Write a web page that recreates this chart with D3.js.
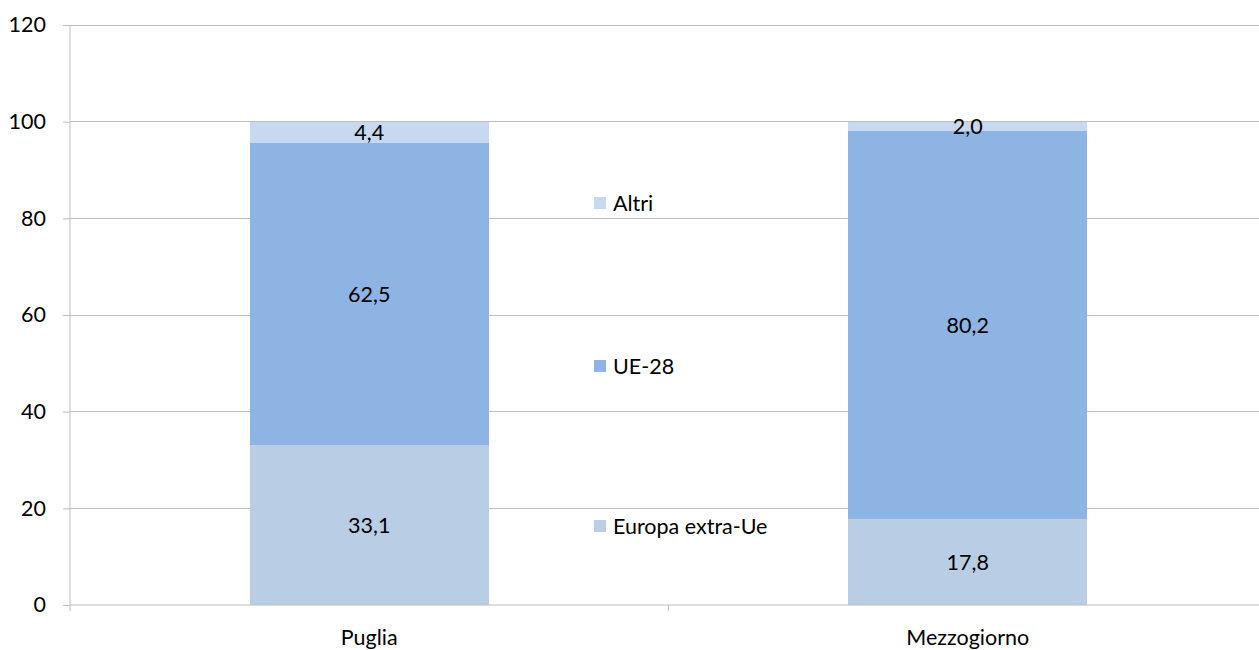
<!DOCTYPE html>
<html><head><meta charset="utf-8">
<script src="https://cdn.jsdelivr.net/npm/d3@7"></script>
<style>body{margin:0;background:#fff}text{font-family:Lato,"Open Sans",sans-serif;fill:#000}</style>
</head><body>
<svg id="c" width="1259" height="650"></svg>
<script>
const categories = ["Puglia", "Mezzogiorno"];
const seriesNames = ["Europa extra-Ue", "UE-28", "Altri"];
const europaExtraUe = [33.1, 17.8];
const ue28 = [62.5, 80.2];
const altri = [4.4, 2.0];
const yTicks = [0, 20, 40, 60, 80, 100, 120];
const colors = ["#b9cde5", "#8eb4e3", "#c6d9f1"];

const svg = d3.select("#c");
const m = {l: 70, r: 1267, t: 25, b: 605};
const x = d3.scaleBand().domain(categories).range([m.l, m.r]).paddingInner(0.6).paddingOuter(0.3);
const y = d3.scaleLinear().domain([0, 120]).range([m.b, m.t]);
const fs = 21.5;

// gridlines
svg.append("g").selectAll("line").data(yTicks.filter(d => d > 0)).join("line")
  .attr("x1", m.l).attr("x2", m.r).attr("y1", d => y(d)).attr("y2", d => y(d))
  .attr("stroke", "#bfbfbf").attr("stroke-width", 1).attr("shape-rendering", "crispEdges");

const data = categories.map((c, i) => ({cat: c, v: [europaExtraUe[i], ue28[i], altri[i]]}));
const stack = d3.stack().keys([0, 1, 2]).value((d, k) => d.v[k]);
const stacked = stack(data);

stacked.forEach((s, si) => {
  svg.append("g").selectAll("rect").data(s).join("rect")
    .attr("x", d => x(d.data.cat)).attr("width", x.bandwidth())
    .attr("y", d => y(d[1])).attr("height", d => y(d[0]) - y(d[1]))
    .attr("fill", colors[si]).attr("shape-rendering", "crispEdges");
  svg.append("g").selectAll("text").data(s).join("text")
    .attr("x", d => x(d.data.cat) + x.bandwidth() / 2)
    .attr("y", d => (y(d[0]) + y(d[1])) / 2)
    .attr("dy", "0.36em").attr("text-anchor", "middle").attr("font-size", fs)
    .text(d => d3.format(".1f")(d[1] - d[0]).replace(".", ","));
});

// axes
const ya = d3.axisLeft(y).tickValues(yTicks).tickSize(7).tickPadding(17);
const gy = svg.append("g").attr("transform", `translate(${m.l},0)`).call(ya);
gy.select(".domain").attr("stroke", "#bfbfbf").attr("d", `M0,${m.t}V${m.b}`);
gy.selectAll(".tick line").attr("stroke", "#bfbfbf");
gy.selectAll(".tick text").attr("font-size", fs).attr("font-family", "Lato,'Open Sans',sans-serif").attr("fill", "#000");

const gx = svg.append("g").attr("transform", `translate(0,${m.b})`);
gx.append("line").attr("x1", m.l).attr("x2", m.r).attr("stroke", "#bfbfbf");
const step = x.step();
const bounds = [m.l, m.l + (m.r - m.l) / 2, m.r];
gx.selectAll("line.t").data(bounds).join("line").attr("class", "t")
  .attr("x1", d => d).attr("x2", d => d).attr("y1", 0).attr("y2", 6).attr("stroke", "#bfbfbf");
gx.selectAll("text").data(categories).join("text")
  .attr("x", d => x(d) + x.bandwidth() / 2).attr("y", 32).attr("dy", "0.36em")
  .attr("text-anchor", "middle").attr("font-size", fs).text(d => d);

// legend
const legY = [526, 366, 203];
const lg = svg.append("g");
seriesNames.forEach((n, i) => {
  lg.append("rect").attr("x", 594).attr("y", legY[i] - 6).attr("width", 12).attr("height", 12).attr("fill", colors[i]);
  lg.append("text").attr("x", 613).attr("y", legY[i]).attr("dy", "0.36em").attr("font-size", fs).text(n);
});
</script>
</body></html>
